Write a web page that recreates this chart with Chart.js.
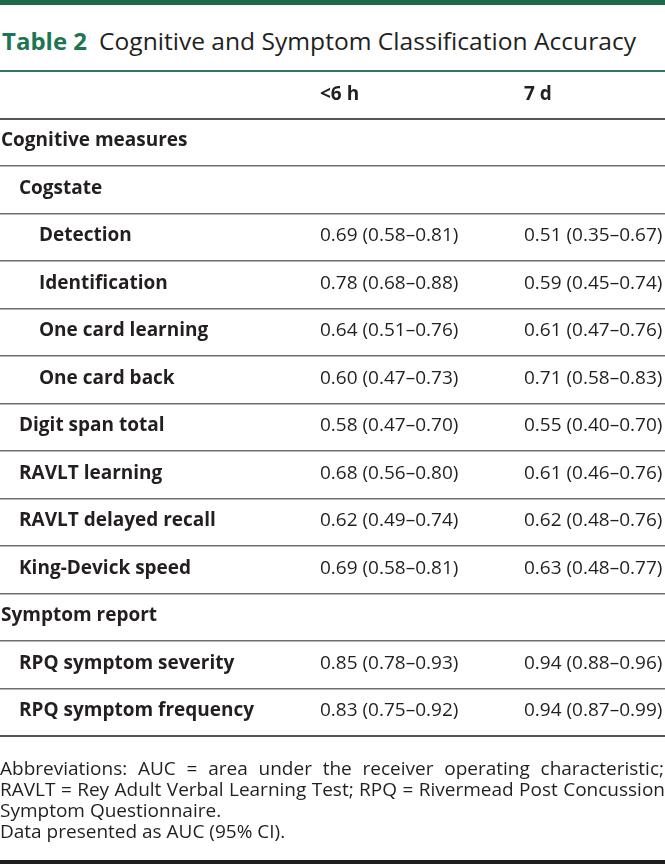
<!DOCTYPE html>
<html>
<head>
<meta charset="utf-8">
<script src="https://cdn.jsdelivr.net/npm/chart.js@4.4.1/dist/chart.umd.min.js"></script>
<style>
html,body{margin:0;padding:0;background:#fff;}
#wrap{position:relative;width:665px;height:866px;overflow:hidden;font-family:"Open Sans",sans-serif;color:#231f20;}
#topbar{position:absolute;left:0;top:0;width:665px;height:5px;background:#1b6b4b;}
.tt{position:absolute;top:26px;white-space:nowrap;font-size:24px;line-height:30px;transform-origin:0 0;display:inline-block;}
#t1{left:2px;font-weight:700;color:#1e7553;}
#t2{left:99px;font-weight:400;color:#231f20;}
#chartBox{position:absolute;left:0;top:0;width:665px;height:866px;}
.fn{position:absolute;left:0px;white-space:nowrap;font-size:19px;line-height:21px;color:#231f20;transform-origin:0 0;display:inline-block;}
#bottomrule{position:absolute;left:0;top:860px;width:665px;height:4px;background:#1e1e1e;}
</style>
</head>
<body>
<div id="wrap">
  <div id="topbar"></div>
  <span class="tt" id="t1">Table 2</span>
  <span class="tt" id="t2">Cognitive and Symptom Classification Accuracy</span>
  <div id="chartBox"><canvas id="c" width="665" height="866"></canvas></div>
  <span class="fn" id="f1" style="top:758px">Abbreviations: AUC = area under the receiver operating characteristic;</span>
  <span class="fn" id="f2" style="top:779px">RAVLT = Rey Adult Verbal Learning Test; RPQ = Rivermead Post Concussion</span>
  <span class="fn" id="f3" style="top:800px">Symptom Questionnaire.</span>
  <span class="fn" id="f4" style="top:821px">Data presented as AUC (95% CI).</span>
  <div id="bottomrule"></div>
</div>
<script>
// ---- data ----
const columns = ['<6 h', '7 d'];
const rowLabels = [
  'Cognitive measures', 'Cogstate', 'Detection', 'Identification', 'One card learning',
  'One card back', 'Digit span total', 'RAVLT learning', 'RAVLT delayed recall',
  'King-Devick speed', 'Symptom report', 'RPQ symptom severity', 'RPQ symptom frequency'
];
const rowLevels = [0, 1, 2, 2, 2, 2, 1, 1, 1, 1, 0, 1, 1];
const auc6h = [null, null, 0.69, 0.78, 0.64, 0.60, 0.58, 0.68, 0.62, 0.69, null, 0.85, 0.83];
const lo6h  = [null, null, 0.58, 0.68, 0.51, 0.47, 0.47, 0.56, 0.49, 0.58, null, 0.78, 0.75];
const hi6h  = [null, null, 0.81, 0.88, 0.76, 0.73, 0.70, 0.80, 0.74, 0.81, null, 0.93, 0.92];
const auc7d = [null, null, 0.51, 0.59, 0.61, 0.71, 0.55, 0.61, 0.62, 0.63, null, 0.94, 0.94];
const lo7d  = [null, null, 0.35, 0.45, 0.47, 0.58, 0.40, 0.46, 0.48, 0.48, null, 0.88, 0.87];
const hi7d  = [null, null, 0.67, 0.74, 0.76, 0.83, 0.70, 0.76, 0.76, 0.77, null, 0.96, 0.99];

// ---- layout / style ----
const TEXT = '#231f20';
const COL_X = [0, 320, 524];        // anchor positions on the hidden x scale
const INDENT = [1, 19, 39];
const FONT_SIZE = 19;
const BASE_SHIFT = 4;

function fmt(v, lo, hi) {
  return v.toFixed(2) + ' (' + lo.toFixed(2) + '\u2013' + hi.toFixed(2) + ')';
}

const tablePlugin = {
  id: 'tableText',
  afterDatasetsDraw(chart) {
    const { ctx, scales: { x, y } } = chart;
    ctx.save();
    ctx.textBaseline = 'alphabetic';
    ctx.textAlign = 'left';
    ctx.fillStyle = TEXT;
    ctx.font = 'bold ' + FONT_SIZE + 'px "Open Sans"';
    columns.forEach((c, j) => {
      ctx.fillText(c, x.getPixelForValue(COL_X[j + 1]), y.getPixelForValue(0) + BASE_SHIFT + 1);
    });
    rowLabels.forEach((lab, i) => {
      const py = y.getPixelForValue(i + 1) + BASE_SHIFT;
      ctx.font = 'bold ' + FONT_SIZE + 'px "Open Sans"';
      ctx.fillText(lab, x.getPixelForValue(INDENT[rowLevels[i]]), py);
      ctx.font = FONT_SIZE + 'px "Open Sans"';
      chart.data.datasets.forEach((ds, j) => {
        const v = ds.data[i + 1];
        if (v == null) return;
        ctx.fillText(fmt(v, ds.lo[i + 1], ds.hi[i + 1]), x.getPixelForValue(COL_X[j + 1]), py);
      });
    });
    ctx.restore();
  }
};

function gridColor(ctx) {
  const i = ctx.index;
  if (i === undefined) return '#555555';
  if (i === 0) return '#2b7a58';
  if (i === 1) return '#555555';
  return '#6e6e6e';
}
function gridWidth(ctx) {
  const i = ctx.index;
  if (i === undefined) return 2;
  if (i === 0) return 2;
  if (i === 1) return 2;
  return 1.5;
}

function build() {
  new Chart(document.getElementById('c'), {
    type: 'bar',
    data: {
      labels: [''].concat(rowLabels),
      datasets: [
        { label: columns[0], data: [null].concat(auc6h), lo: [null].concat(lo6h), hi: [null].concat(hi6h),
          backgroundColor: 'rgba(0,0,0,0)', borderWidth: 0 },
        { label: columns[1], data: [null].concat(auc7d), lo: [null].concat(lo7d), hi: [null].concat(hi7d),
          backgroundColor: 'rgba(0,0,0,0)', borderWidth: 0 }
      ]
    },
    options: {
      indexAxis: 'y',
      responsive: false,
      animation: false,
      devicePixelRatio: 1,
      layout: { padding: { top: 71, bottom: 130, left: 0, right: 0 } },
      plugins: { legend: { display: false }, tooltip: { enabled: false }, title: { display: false } },
      scales: {
        x: { type: 'linear', min: 0, max: 665, display: false },
        y: {
          type: 'category', offset: true, display: true,
          ticks: { display: false },
          border: { display: false },
          grid: { offset: true, drawTicks: false, color: gridColor, lineWidth: gridWidth }
        }
      }
    },
    plugins: [tablePlugin]
  });
}

function fit(id, target, justify) {
  const el = document.getElementById(id);
  const w = el.getBoundingClientRect().width;
  if (justify && w < target) {
    const words = el.textContent.split(' ').length - 1;
    el.style.wordSpacing = ((target - w) / words) + 'px';
  } else if (w > 0) {
    el.style.transform = 'scaleX(' + (target / w) + ')';
  }
}

function start() {
  fit('t1', 85, false);
  fit('t2', 537, false);
  fit('f1', 664, true);
  fit('f2', 665, true);
  build();
}
if (document.fonts && document.fonts.ready) {
  Promise.all([
    document.fonts.load('400 19px "Open Sans"'),
    document.fonts.load('700 19px "Open Sans"')
  ]).then(start, start);
} else { start(); }
</script>
</body>
</html>
